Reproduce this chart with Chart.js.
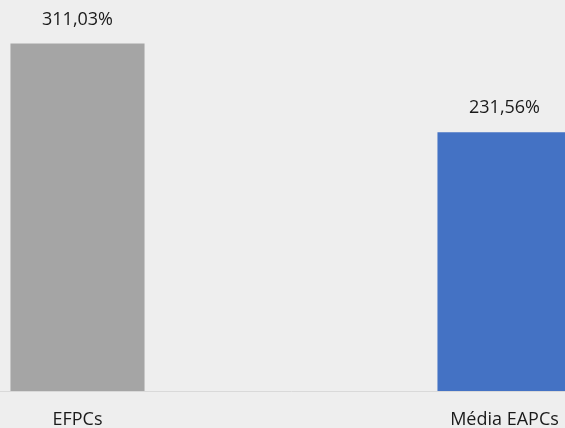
<!DOCTYPE html>
<html>
<head>
<meta charset="utf-8">
<script src="https://cdn.jsdelivr.net/npm/chart.js@4"></script>
<style>
    html, body { margin: 0; padding: 0; background: #eeeeee; overflow: hidden; }
    #wrap { position: relative; width: 565px; height: 428px; overflow: hidden; }
    #box { position: absolute; left: -136px; top: 0; width: 854px; height: 428px; }
</style>
</head>
<body>
<div id="wrap"><div id="box"><canvas id="chart"></canvas></div></div>
<script>
const categories = ["EFPCs", "Média EAPCs"];
const values = [311.03, 231.56];
const barColors = ["#a5a5a5", "#4472c4"];

const fmt = v => v.toFixed(2).replace(".", ",") + "%";

const valueLabels = {
    id: "valueLabels",
    afterDatasetsDraw(chart) {
        const ctx = chart.ctx;
        ctx.save();
        ctx.font = "18px 'Open Sans'";
        ctx.fillStyle = "#1a1a1a";
        ctx.textAlign = "center";
        ctx.textBaseline = "middle";
        chart.getDatasetMeta(0).data.forEach((bar, i) => {
            ctx.fillText(fmt(values[i]), bar.x, bar.y - 24);
        });
        ctx.restore();
    },
};

const data = {
    labels: categories,
    datasets: [
        {
            data: values,
            backgroundColor: barColors,
            categoryPercentage: 1,
            barPercentage: 0.314,
        },
    ],
};

const config = {
    type: "bar",
    data: data,
    options: {
        responsive: true,
        maintainAspectRatio: false,
        animation: false,
        layout: { padding: 0 },
        plugins: {
            legend: { display: false },
            tooltip: { enabled: false },
        },
        scales: {
            x: {
                grid: { display: false, drawTicks: false },
                border: { color: "#d9d9d9", width: 1 },
                ticks: {
                    color: "#1a1a1a",
                    font: { family: "'Open Sans'", size: 18 },
                    padding: 18,
                },
                afterFit: (s) => { s.height = 37; },
            },
            y: {
                display: false,
                min: 0,
                max: 350,
            },
        },
    },
    plugins: [valueLabels],
};

new Chart(document.getElementById("chart"), config);
</script>
</body>
</html>
